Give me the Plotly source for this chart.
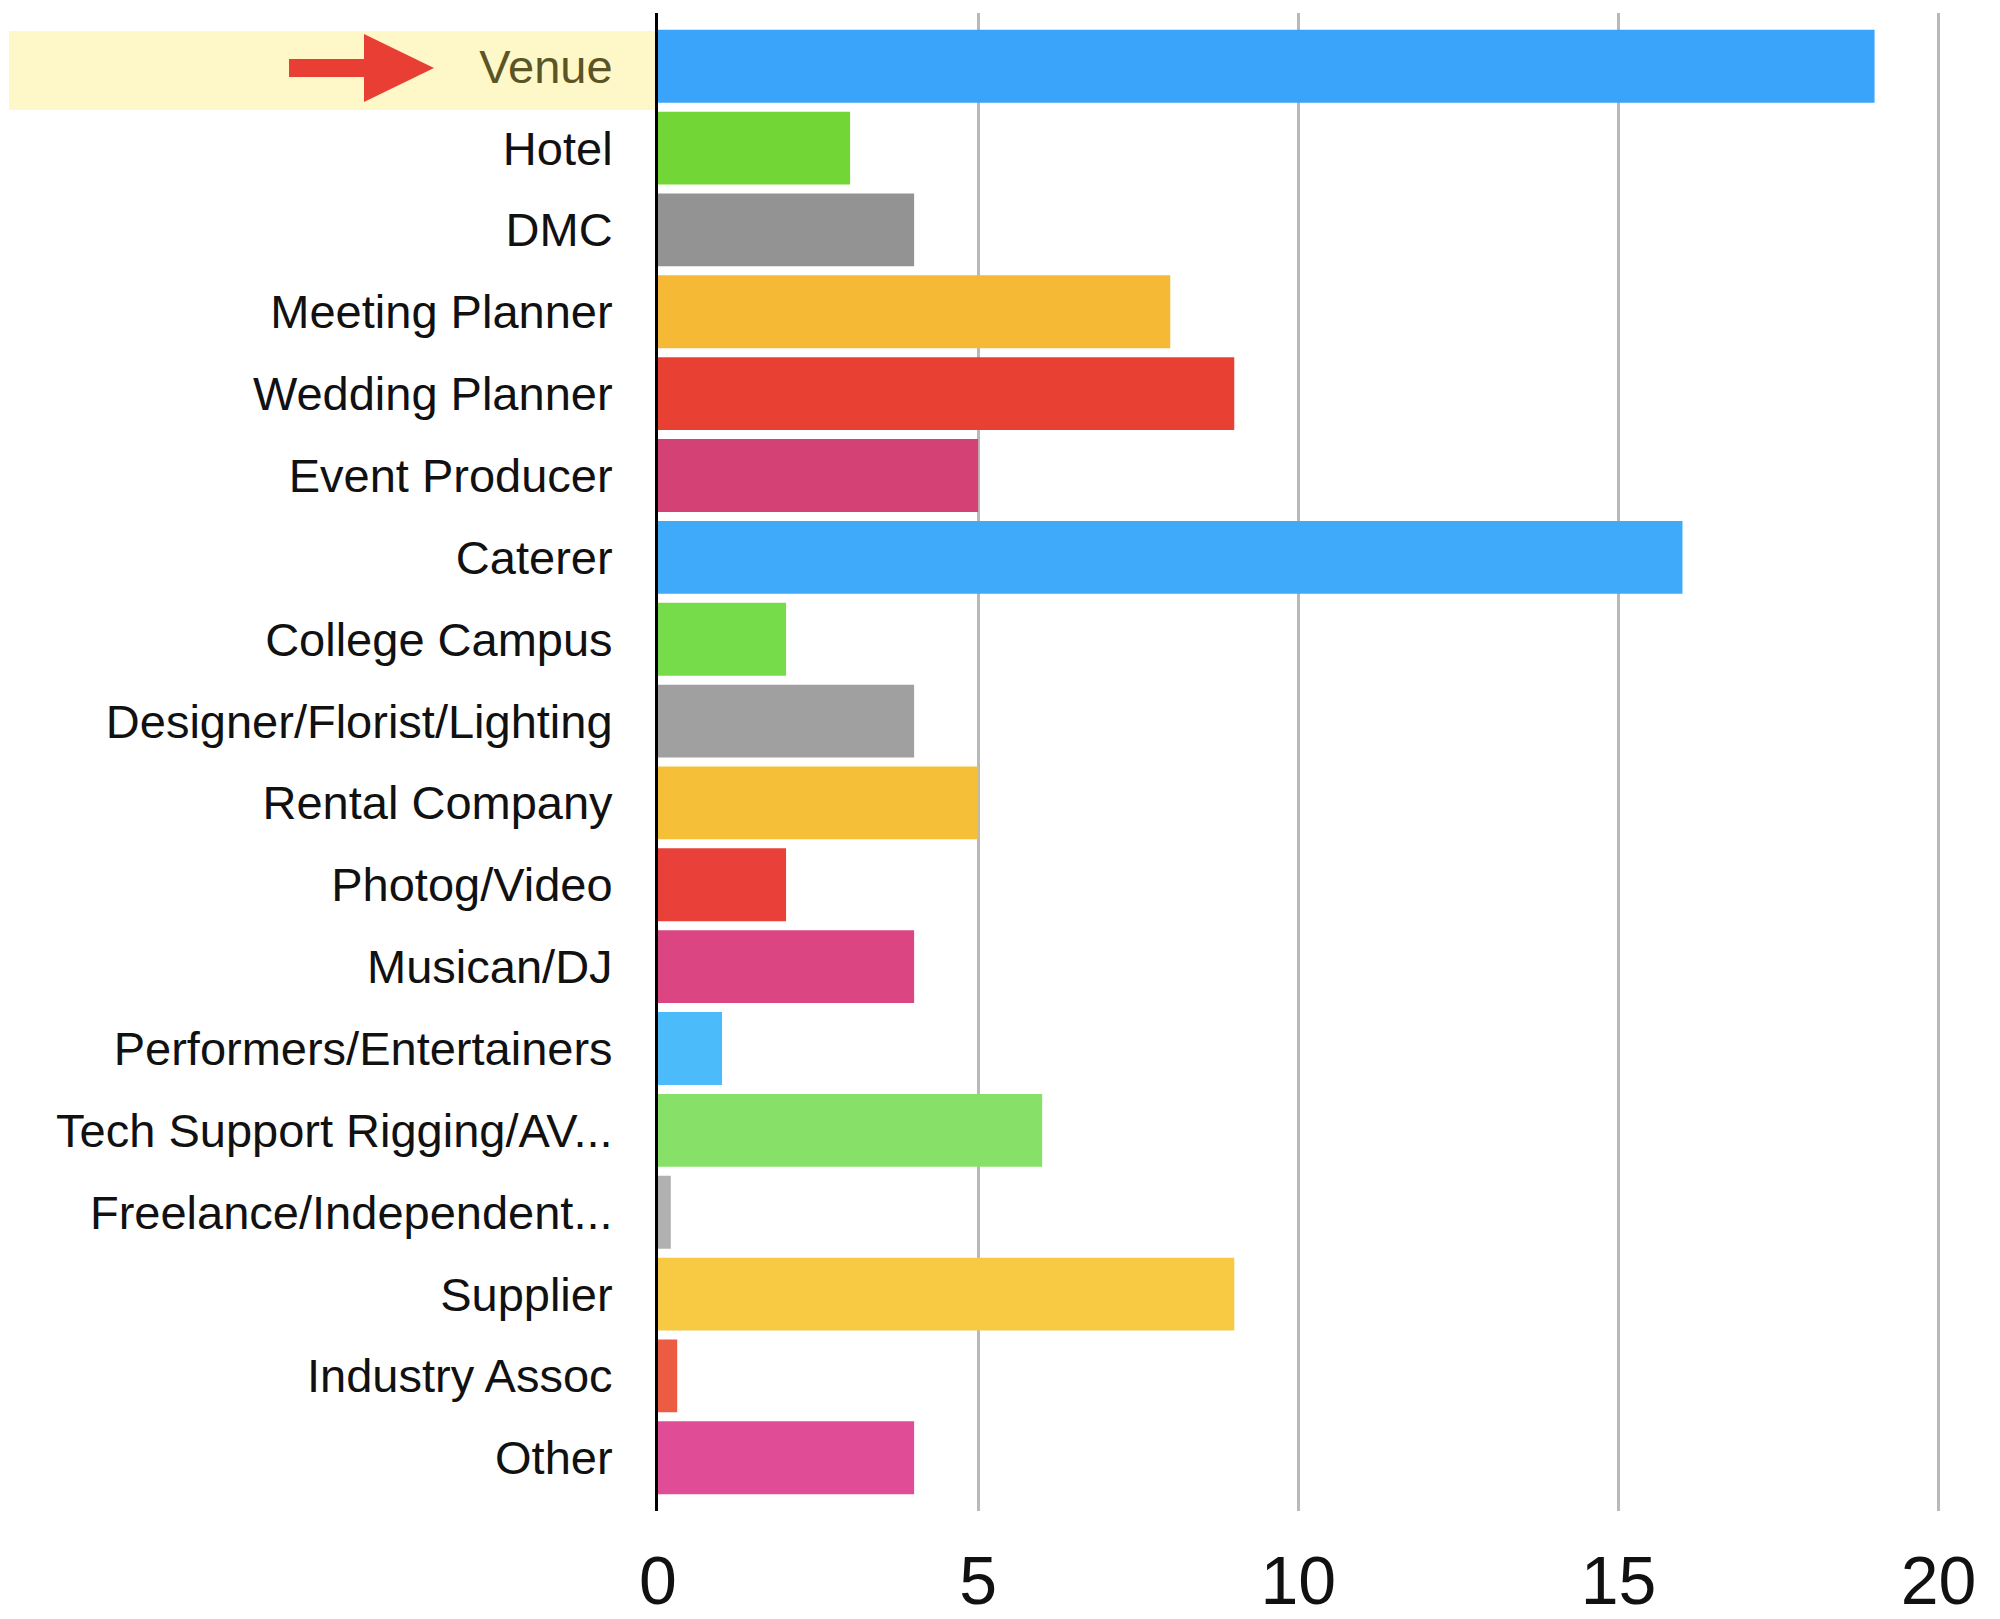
import plotly.graph_objects as go

categories = ["Venue", "Hotel", "DMC", "Meeting Planner", "Wedding Planner",
              "Event Producer", "Caterer", "College Campus",
              "Designer/Florist/Lighting", "Rental Company", "Photog/Video",
              "Musican/DJ", "Performers/Entertainers", "Tech Support Rigging/AV...",
              "Freelance/Independent...", "Supplier", "Industry Assoc", "Other"]
values = [19, 3, 4, 8, 9, 5, 16, 2, 4, 5, 2, 4, 1, 6, 0.2, 9, 0.3, 4]
colors = ["#3aa3fa", "#72d736", "#939393", "#f5b935", "#e94034", "#d44175",
          "#3fa9fa", "#77dc4a", "#a0a0a0", "#f5c037", "#e9403a", "#db4582",
          "#4cbbf9", "#87e068", "#b1b1b1", "#f8ca44", "#eb5c43", "#e04d96"]
x_ticks = [0, 5, 10, 15, 20]
highlight = "Venue"

# page body has an 8px margin; work in viewport pixels and shift
OFF = 8
W, H = 2000 - OFF, 1619 - OFF
L, R, T, B = 658, 1945, 13, 1511   # viewport pixels of plot area

def px(x):
    return (x - L) / (R - L)

def py(y):
    return (B - y) / (B - T)

ticktext = [f"<span style='color:#5b5424'>{c}</span>" if c == highlight else c
            for c in categories]

fig = go.Figure(go.Bar(
    x=values, y=categories, orientation="h",
    marker=dict(color=colors, line=dict(width=0)),
    hoverinfo="x+y",
))

shapes = [
    # highlight band
    dict(type="rect", xref="paper", yref="paper",
         x0=px(9), x1=px(658), y0=py(110), y1=py(31),
         fillcolor="#fef8c8", line=dict(width=0), layer="below"),
    # arrow shaft
    dict(type="rect", xref="paper", yref="paper",
         x0=px(289), x1=px(366), y0=py(77), y1=py(59),
         fillcolor="#e83e33", line=dict(width=0), layer="above"),
    # arrow head
    dict(type="path", xref="paper", yref="paper",
         path=f"M {px(364)},{py(34)} L {px(434)},{py(68)} L {px(364)},{py(102)} Z",
         fillcolor="#e83e33", line=dict(width=0), layer="above"),
]

fig.update_layout(
    width=W, height=H,
    margin=dict(l=L - OFF, r=W - (R - OFF), t=T - OFF, b=H - (B - OFF), pad=0,
                autoexpand=False),
    paper_bgcolor="white", plot_bgcolor="white",
    font=dict(family="Liberation Sans, Arial, sans-serif", color="#111111"),
    bargap=0.11,
    showlegend=False,
    shapes=shapes,
    xaxis=dict(
        range=[0, 20.1], tickvals=x_ticks, ticktext=[str(v) for v in x_ticks],
        showgrid=True, gridcolor="#b9b9b9", gridwidth=3,
        zeroline=False, showline=False, ticks="",
        tickfont=dict(size=68, color="#111111"),
        ticklabelstandoff=24, automargin=False,
    ),
    yaxis=dict(
        type="category", categoryorder="array", categoryarray=categories,
        range=[17.65, -0.65],
        tickvals=categories, ticktext=ticktext,
        showgrid=False, zeroline=False,
        showline=True, linecolor="#000000", linewidth=3, layer="above traces",
        ticks="", tickfont=dict(size=47, color="#111111"),
        ticklabelstandoff=33, automargin=False,
    ),
)

fig.write_html("out.html")
